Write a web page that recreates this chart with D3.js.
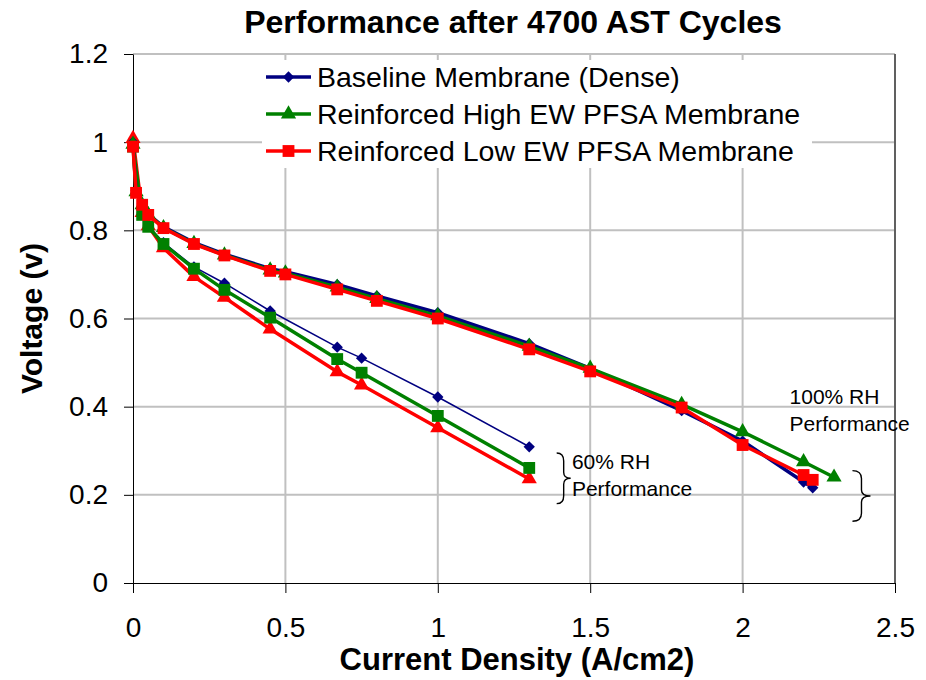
<!DOCTYPE html>
<html>
<head>
<meta charset="utf-8">
<script src="https://cdn.jsdelivr.net/npm/d3@7"></script>
<style>
  body { margin: 0; background: #fff; }
  svg { font-family: "Liberation Sans", Arial, sans-serif; }
</style>
</head>
<body>
<div id="chart"></div>
<script>
// current density points (A/cm2)
const x100 = [0, 0.01, 0.03, 0.05, 0.1, 0.2, 0.3, 0.45, 0.5, 0.67, 0.8, 1.0, 1.3, 1.5, 1.8, 2.0, 2.2, 2.23];
const x100High = [0, 0.01, 0.03, 0.05, 0.1, 0.2, 0.3, 0.45, 0.5, 0.67, 0.8, 1.0, 1.3, 1.5, 1.8, 2.0, 2.2, 2.3];
const x60 = [0, 0.03, 0.05, 0.1, 0.2, 0.3, 0.45, 0.67, 0.75, 1.0, 1.3];

// voltages, 100% RH
const baseline100 = [1.0, 0.89, 0.86, 0.837, 0.808, 0.772, 0.746, 0.713, 0.706, 0.677, 0.651, 0.613, 0.543, 0.487, 0.391, 0.322, 0.229, 0.216];
const highEW100 = [0.995, 0.887, 0.858, 0.836, 0.806, 0.770, 0.744, 0.710, 0.703, 0.671, 0.645, 0.606, 0.537, 0.487, 0.405, 0.343, 0.275, 0.240];
const lowEW100 = [0.99, 0.885, 0.858, 0.835, 0.805, 0.769, 0.743, 0.708, 0.700, 0.666, 0.640, 0.600, 0.530, 0.480, 0.398, 0.313, 0.245, 0.234];

// voltages, 60% RH
const baseline60 = [1.0, 0.84, 0.81, 0.772, 0.717, 0.680, 0.617, 0.535, 0.510, 0.422, 0.309];
const highEW60 = [0.99, 0.835, 0.808, 0.769, 0.713, 0.665, 0.602, 0.508, 0.477, 0.379, 0.261];
const lowEW60 = [1.008, 0.84, 0.81, 0.760, 0.695, 0.648, 0.576, 0.479, 0.449, 0.352, 0.236];

const xTicks = [0, 0.5, 1, 1.5, 2, 2.5];
const yTicks = [0, 0.2, 0.4, 0.6, 0.8, 1, 1.2];

const legendNames = ["Baseline Membrane (Dense)", "Reinforced High EW PFSA Membrane", "Reinforced Low EW PFSA Membrane"];

const navy = "#000080", green = "#008000", red = "#ff0000";

// draw order: 60% first, then 100% on top
const series = [
  { xs: x60, ys: baseline60, color: navy, shape: "diamond", lw: 1.5 },
  { xs: x60, ys: lowEW60, color: red, shape: "triangle", lw: 3.5 },
  { xs: x60, ys: highEW60, color: green, shape: "square", lw: 3.5 },
  { xs: x100, ys: baseline100, color: navy, shape: "diamond", lw: 3.5 },
  { xs: x100High, ys: highEW100, color: green, shape: "triangle", lw: 3.5 },
  { xs: x100, ys: lowEW100, color: red, shape: "square", lw: 3.5 }
];
const legendItems = [
  { name: legendNames[0], color: navy, shape: "diamond" },
  { name: legendNames[1], color: green, shape: "triangle" },
  { name: legendNames[2], color: red, shape: "square" }
];

const width = 926, height = 680;
const margin = { left: 133, right: 31, top: 54, bottom: 97 };

const svg = d3.select("#chart").append("svg")
  .attr("width", width)
  .attr("height", height);

const x = d3.scaleLinear().domain([0, 2.5]).range([margin.left, width - margin.right]);
const y = d3.scaleLinear().domain([0, 1.2]).range([height - margin.bottom, margin.top]);

// gridlines
svg.append("g").selectAll("line.h")
  .data(yTicks.filter(d => d > 0))
  .enter().append("line")
  .attr("x1", x(0)).attr("x2", x(2.5))
  .attr("y1", d => y(d)).attr("y2", d => y(d))
  .attr("stroke", "#c0c0c0").attr("stroke-width", 2);

svg.append("g").selectAll("line.v")
  .data(xTicks.filter(d => d > 0 && d < 2.5))
  .enter().append("line")
  .attr("x1", d => x(d)).attr("x2", d => x(d))
  .attr("y1", y(0)).attr("y2", y(1.2))
  .attr("stroke", "#c0c0c0").attr("stroke-width", 2);

// right edge of plot area
svg.append("line")
  .attr("x1", x(2.5)).attr("x2", x(2.5))
  .attr("y1", y(1.2)).attr("y2", y(0))
  .attr("stroke", "#606060").attr("stroke-width", 2);

// axes
const xAxis = d3.axisBottom(x).tickValues(xTicks).tickSize(10).tickSizeOuter(0)
  .tickFormat(d => d3.format("")(d));
const gx = svg.append("g").attr("transform", `translate(0,${y(0)})`).call(xAxis);
gx.select(".domain").attr("stroke", "#000");
gx.selectAll(".tick line").attr("stroke", "#000");
gx.selectAll(".tick text").attr("font-size", 28).attr("font-family", "Liberation Sans, Arial").attr("fill", "#000")
  .attr("y", 34).attr("dy", "0.71em");

const yAxis = d3.axisLeft(y).tickValues(yTicks).tickSize(9).tickSizeOuter(0)
  .tickFormat(d => d3.format("")(d));
const gy = svg.append("g").attr("transform", `translate(${x(0)},0)`).call(yAxis);
gy.select(".domain").attr("stroke", "#000");
gy.selectAll(".tick line").attr("stroke", "#000");
gy.selectAll(".tick text").attr("font-size", 28).attr("font-family", "Liberation Sans, Arial").attr("fill", "#000").attr("x", -25);

function symbolPath(shape) {
  if (shape === "diamond") return d3.symbol().type(d3.symbolSquare).size(64)();
  if (shape === "triangle") return d3.symbol().type(d3.symbolTriangle).size(100)();
  return d3.symbol().type(d3.symbolSquare).size(140)();
}

const line = d3.line();

series.forEach(s => {
  const pts = s.xs.map((v, i) => [x(v), y(s.ys[i])]);
  svg.append("path")
    .attr("d", line(pts))
    .attr("fill", "none")
    .attr("stroke", s.color)
    .attr("stroke-width", s.lw)
    .attr("stroke-linejoin", "round");
  svg.append("g").selectAll("path")
    .data(pts)
    .enter().append("path")
    .attr("d", symbolPath(s.shape))
    .attr("transform", d => `translate(${d[0]},${d[1]})` + (s.shape === "diamond" ? " rotate(45)" : ""))
    .attr("fill", s.color);
});

// legend
const legend = svg.append("g");
legend.append("rect")
  .attr("x", 262).attr("y", 60).attr("width", 550).attr("height", 108)
  .attr("fill", "#fff");
const li = legend.selectAll("g.item")
  .data(legendItems)
  .enter().append("g")
  .attr("transform", (d, i) => `translate(266,${77 + i * 37})`);
li.append("line")
  .attr("x1", 0).attr("x2", 45)
  .attr("stroke", d => d.color).attr("stroke-width", 3.5);
li.append("path")
  .attr("d", d => symbolPath(d.shape))
  .attr("transform", d => "translate(22.5,0)" + (d.shape === "diamond" ? " rotate(45)" : ""))
  .attr("fill", d => d.color);
li.append("text")
  .attr("x", 51)
  .attr("dy", "0.36em")
  .attr("font-size", 28.5)
  .text(d => d.name);

// annotations
function brace(xc, y0, y1, w) {
  const ym = (y0 + y1) / 2;
  const p = d3.path();
  p.moveTo(xc - w, y0);
  p.quadraticCurveTo(xc, y0, xc, y0 + 8);
  p.lineTo(xc, ym - 6);
  p.quadraticCurveTo(xc, ym, xc + w, ym);
  p.quadraticCurveTo(xc, ym, xc, ym + 6);
  p.lineTo(xc, y1 - 8);
  p.quadraticCurveTo(xc, y1, xc - w, y1);
  return p.toString();
}

const notes = [
  { label: ["60% RH", "Performance"], bx: 1.413, by0: 0.295, by1: 0.18, w: 7, tx: 1.44, ty: 0.258 },
  { label: ["100% RH", "Performance"], bx: 2.39, by0: 0.255, by1: 0.14, w: 9, tx: 2.154, ty: 0.405 }
];
notes.forEach(n => {
  svg.append("path")
    .attr("d", brace(x(n.bx), y(n.by0), y(n.by1), n.w))
    .attr("fill", "none").attr("stroke", "#000").attr("stroke-width", 1.4);
  const t = svg.append("text")
    .attr("x", x(n.tx)).attr("y", y(n.ty))
    .attr("font-size", 21);
  n.label.forEach((s, i) => {
    t.append("tspan").attr("x", x(n.tx)).attr("dy", i === 0 ? 0 : "1.27em").text(s);
  });
});

// titles
svg.append("text")
  .attr("x", 513).attr("y", 33)
  .attr("text-anchor", "middle")
  .attr("font-size", 32).attr("font-weight", "bold")
  .text("Performance after 4700 AST Cycles");

svg.append("text")
  .attr("x", 517).attr("y", 670)
  .attr("text-anchor", "middle")
  .attr("font-size", 31).attr("font-weight", "bold")
  .text("Current Density (A/cm2)");

svg.append("text")
  .attr("transform", `translate(42,${(y(0) + y(1.2)) / 2}) rotate(-90)`)
  .attr("text-anchor", "middle")
  .attr("font-size", 30).attr("font-weight", "bold")
  .text("Voltage (v)");
</script>
</body>
</html>
